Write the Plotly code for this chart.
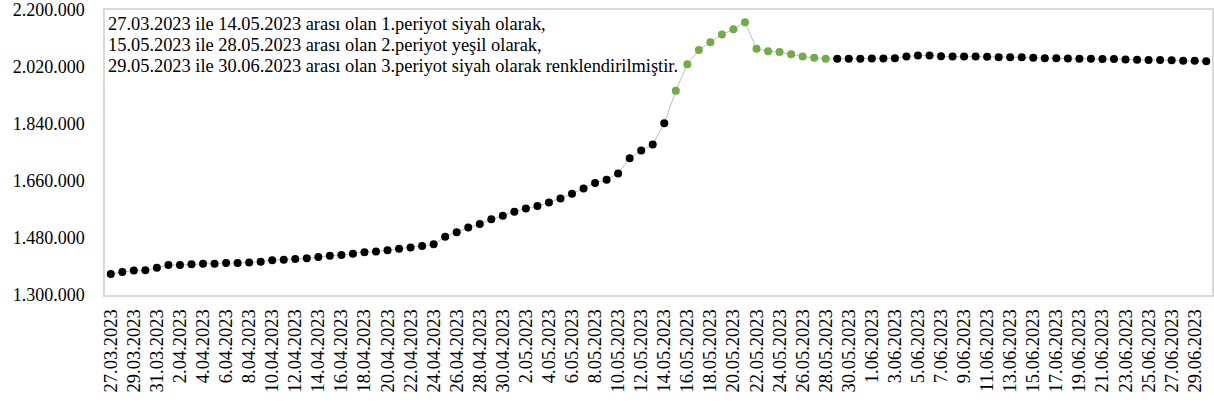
import plotly.graph_objects as go
import pandas as pd

# ---- data ----
dates = pd.date_range("2023-03-27", "2023-06-30", freq="D")
date_labels = [f"{d.day}.{d.month:02d}.{d.year}" for d in dates]

period1_values = [1366000, 1373000, 1377000, 1378000, 1386000, 1395000, 1395000, 1397000,
                  1399000, 1399000, 1401000, 1401000, 1403000, 1405000, 1410000, 1411000,
                  1414000, 1416000, 1420000, 1424000, 1426000, 1430000, 1435000, 1437000,
                  1441000, 1446000, 1450000, 1455000, 1460000, 1484000, 1498000, 1513000,
                  1524000, 1539000, 1550000, 1563000, 1573000, 1581000, 1592000, 1605000,
                  1620000, 1636000, 1654000, 1664000, 1684000, 1732000, 1756000, 1775000,
                  1842000]
period2_values = [1945000, 2029000, 2074000, 2098000, 2123000, 2139000, 2161000, 2078000,
                  2070000, 2067000, 2060000, 2053000, 2049000, 2046000]
period3_values = [2046000, 2046000, 2046000, 2047000, 2047000, 2048000, 2053000, 2056000,
                  2056000, 2054000, 2053000, 2053000, 2053000, 2052000, 2051000, 2051000,
                  2051000, 2049000, 2048000, 2048000, 2047000, 2046000, 2046000, 2045000,
                  2045000, 2044000, 2043000, 2042000, 2042000, 2041000, 2040000, 2040000,
                  2038000]
period_colors = ["#000000", "#70ad47", "#000000"]

annotation_lines = [
    "27.03.2023 ile 14.05.2023 arası olan 1.periyot siyah olarak,",
    "15.05.2023 ile 28.05.2023 arası olan 2.periyot yeşil olarak,",
    "29.05.2023 ile 30.06.2023 arası olan 3.periyot siyah olarak renklendirilmiştir.",
]

y_ticks = [1300000, 1480000, 1660000, 1840000, 2020000, 2200000]

# ---- build ----
values = period1_values + period2_values + period3_values
colors = ([period_colors[0]] * len(period1_values)
          + [period_colors[1]] * len(period2_values)
          + [period_colors[2]] * len(period3_values))

FONT = "Liberation Serif, Times New Roman, serif"

fig = go.Figure()
fig.add_trace(go.Scatter(
    x=date_labels, y=values, mode="lines+markers",
    line=dict(color="#bfbfbf", width=1),
    marker=dict(color=colors, size=8, line=dict(width=0)),
    showlegend=False, hoverinfo="x+y",
))

for i, txt in enumerate(annotation_lines):
    fig.add_annotation(
        xref="paper", yref="paper", x=0.001, y=1 - (14 + 21 * i) / 285,
        xanchor="left", yanchor="middle", text=txt, showarrow=False,
        font=dict(family=FONT, size=18.4, color="#000000"),
    )

fig.update_layout(
    width=1214, height=407,
    margin=dict(l=105, r=2, t=10, b=112),
    paper_bgcolor="white", plot_bgcolor="white",
    separators=",.",
    font=dict(family=FONT, size=18, color="#000000"),
)
fig.update_xaxes(
    type="category", range=[-0.5, len(date_labels) - 0.5],
    tickmode="array", tickvals=date_labels[::2], ticktext=date_labels[::2],
    tickangle=-90, tickfont=dict(family=FONT, size=18.5, color="#000000"),
    showgrid=False, showline=True, linecolor="#d9d9d9", linewidth=1.5, mirror=True,
    ticks="", zeroline=False, automargin=False, ticklabelstandoff=5,
)
fig.update_yaxes(
    range=[1300000, 2200000], tickmode="array", tickvals=y_ticks,
    tickformat=",.0f", tickfont=dict(family=FONT, size=18, color="#000000"),
    showgrid=False, showline=True, linecolor="#d9d9d9", linewidth=1.5, mirror=True,
    ticks="", zeroline=False, ticklabelstandoff=15, automargin=False,
)

fig.write_html("out.html", config={"displayModeBar": False},
               post_script="document.body.style.margin='0';")
